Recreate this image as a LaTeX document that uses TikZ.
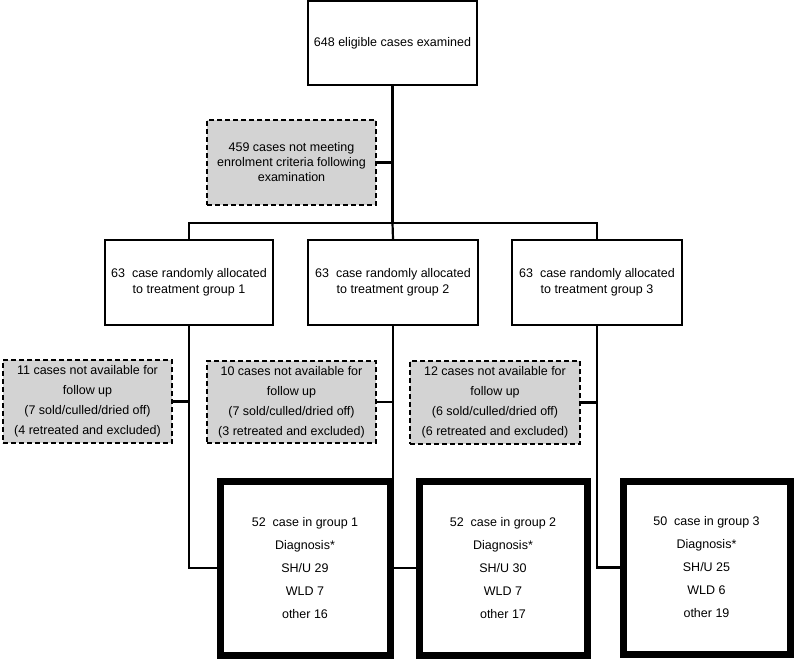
\documentclass[tikz,border=0pt]{standalone}
\usepackage{fontspec}
\setmainfont{Liberation Sans}
\begin{document}
\begin{tikzpicture}[x=1pt,y=-1pt,
  every node/.style={inner sep=0pt, align=center},
  plainbox/.style={draw, line width=2pt, fill=white, font={\fontsize{12.5}{16}\selectfont}},
  greybox/.style={draw, line width=2pt, dash pattern=on 5pt off 3pt, fill=greyfill, font={\fontsize{12.5}{20}\selectfont}},
  finalbox/.style={draw, line width=7pt, fill=white, font={\fontsize{12.5}{23}\selectfont}},
  conn/.style={line width=2.2pt}]
\definecolor{greyfill}{RGB}{211,211,211}
\useasboundingbox (0,0) rectangle (795,662);
\fill[white] (0,0) rectangle (795,662);

\node[plainbox, minimum width=169pt, minimum height=84pt] (top) at (392.5,43) {648 eligible cases examined};
\node[greybox, minimum width=169pt, minimum height=85pt, font={\fontsize{12.5}{15}\selectfont}] (ex) at (291.5,162.5) {459 cases not meeting\\enrolment criteria following\\examination};

\node[plainbox, minimum width=168pt, minimum height=85pt] (g1) at (189,282.5) {63~~case randomly allocated\\to treatment group 1};
\node[plainbox, minimum width=170pt, minimum height=85pt] (g2) at (393,282.5) {63~~case randomly allocated\\to treatment group 2};
\node[plainbox, minimum width=170pt, minimum height=85pt] (g3) at (597,282) {63~~case randomly allocated\\to treatment group 3};

\node[greybox, minimum width=169pt, minimum height=83pt] (d1) at (87.5,401.5) {11 cases not available for\\follow up\\(7 sold/culled/dried off)\\(4 retreated and excluded)};
\node[greybox, minimum width=169pt, minimum height=82pt] (d2) at (291.5,402) {10 cases not available for\\follow up\\(7 sold/culled/dried off)\\(3 retreated and excluded)};
\node[greybox, minimum width=170pt, minimum height=83pt] (d3) at (495,402.5) {12 cases not available for\\follow up\\(6 sold/culled/dried off)\\(6 retreated and excluded)};

\coordinate (jn) at (392.5,223);
\draw[conn] (top.south) -- (jn);
\draw[conn] (g1.north) |- (jn) -| (g3.north);
\draw[conn] (jn) -- (g2.north);
\draw[conn] (ex.east) -- (ex.east -| top.south);

\node[finalbox, minimum width=170pt, minimum height=174pt] (f1) at (305,568) {52~~case in group 1\\Diagnosis*\\SH/U 29\\WLD 7\\other 16};
\node[finalbox, minimum width=168pt, minimum height=174pt] (f2) at (503,568) {52~~case in group 2\\Diagnosis*\\SH/U 30\\WLD 7\\other 17};
\node[finalbox, minimum width=167pt, minimum height=173pt] (f3) at (706.5,567.5) {50~~case in group 3\\Diagnosis*\\SH/U 25\\WLD 6\\other 19};

\draw[conn] (g1.south) |- (f1.west);
\draw[conn] (g2.south) |- (f2.west);
\draw[conn] (g3.south) |- (f3.west);
\draw[conn] (d1.east) -- (d1.east -| g1.south);
\draw[conn] (d2.east) -- (d2.east -| g2.south);
\draw[conn] (d3.east) -- (d3.east -| g3.south);
\end{tikzpicture}
\end{document}
